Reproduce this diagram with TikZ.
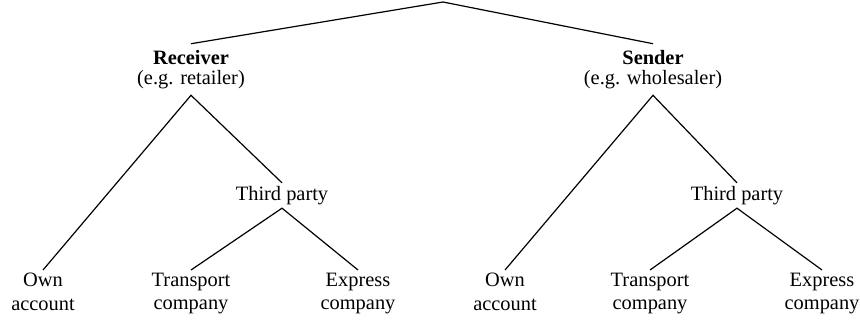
\documentclass[tikz,border=0pt]{standalone}
\usepackage{fontspec}
\setmainfont{Liberation Serif}
\usetikzlibrary{positioning}
\tikzstyle{party} = [
    align=center,
    inner sep=3pt,
    font=\fontsize{10.2}{10.1}\selectfont
]
\tikzstyle{choice} = [
    align=center,
    inner sep=1.5pt,
    font=\fontsize{10.2}{11.6}\selectfont
]
\tikzstyle{leaf} = [
    choice,
    anchor=north
]
\tikzstyle{edge} = [
    line width=0.6pt
]

\begin{document}
\begin{tikzpicture}[x=0.5pt, y=-0.5pt]

\useasboundingbox (0,0) rectangle (860,322);

\coordinate (root) at (443,2);

\node (recv) [party] at (191,69.5) {\textbf{Receiver}\\(e.g. retailer)};
\node (send) [party] at (653,69.5) {\textbf{Sender}\\(e.g. wholesaler)};

\node (third1) [choice] at (282,195.5) {Third party};
\node (third2) [choice] at (737,195.5) {Third party};

\node (own1)   [leaf] at (43,270)  {Own\\account};
\node (trans1) [leaf] at (191,270) {Transport\\company};
\node (expr1)  [leaf] at (358,270) {Express\\company};
\node (own2)   [leaf] at (505,270) {Own\\account};
\node (trans2) [leaf] at (650,270) {Transport\\company};
\node (expr2)  [leaf] at (822,270) {Express\\company};

\draw[edge] (recv.north) -- (root) -- (send.north);

\draw[edge] (own1.north) -- (recv.south) -- (third1.north);
\draw[edge] (trans1.north) -- (third1.south) -- (expr1.north);

\draw[edge] (own2.north) -- (send.south) -- (third2.north);
\draw[edge] (trans2.north) -- (third2.south) -- (expr2.north);

\end{tikzpicture}
\end{document}
